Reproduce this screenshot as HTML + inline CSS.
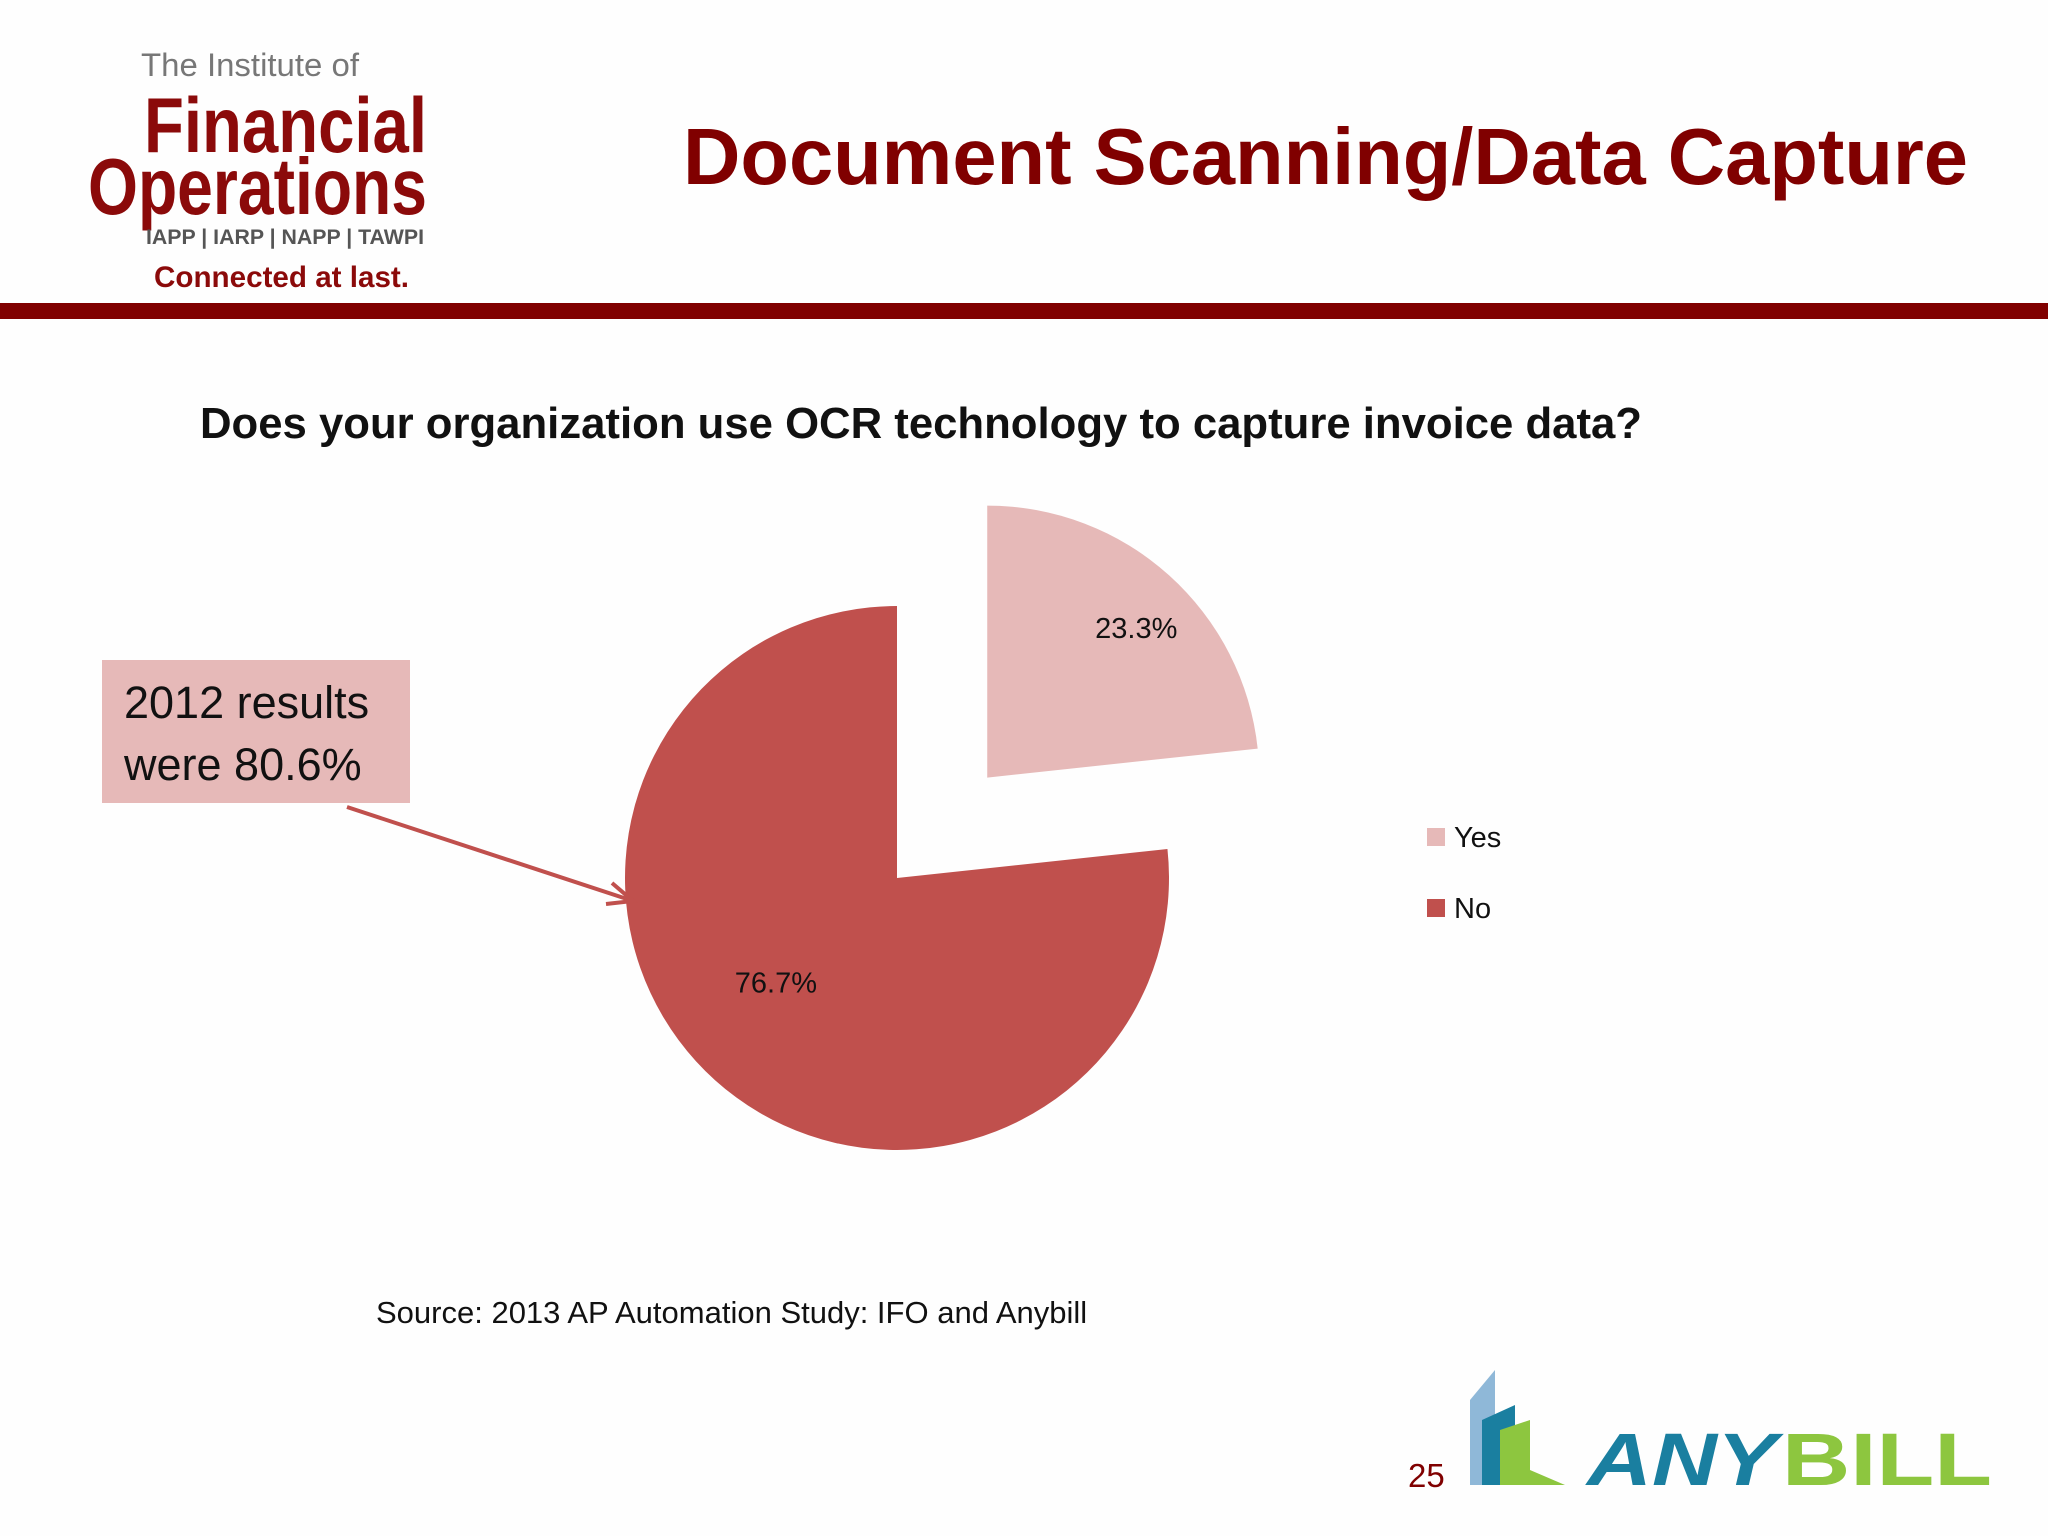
<!DOCTYPE html>
<html><head><meta charset="utf-8"><style>
html,body{margin:0;padding:0;background:#fefefe;}
svg{display:block;font-family:"Liberation Sans",sans-serif;}
</style></head><body>
<svg id="chart" width="2048" height="1536" viewBox="0 0 2048 1536" xmlns="http://www.w3.org/2000/svg">
<rect width="2048" height="1536" fill="#fefefe"/>
<g>
<text x="141" y="76" font-size="32" fill="#777" textLength="218" lengthAdjust="spacingAndGlyphs">The Institute of</text>
<text x="144" y="152" font-size="78" font-weight="bold" fill="#8b0a0a" textLength="283" lengthAdjust="spacingAndGlyphs">Financial</text>
<text x="88" y="214" font-size="80" font-weight="bold" fill="#8b0a0a" textLength="339" lengthAdjust="spacingAndGlyphs">Operations</text>
<text x="146" y="244" font-size="21" font-weight="bold" fill="#555" textLength="278" lengthAdjust="spacingAndGlyphs">IAPP | IARP | NAPP | TAWPI</text>
<text x="154" y="287" font-size="30" font-weight="bold" fill="#8b0a0a" textLength="255" lengthAdjust="spacingAndGlyphs">Connected at last.</text>
</g>
<text x="683" y="184" font-size="80" font-weight="bold" fill="#800000" textLength="1285" lengthAdjust="spacingAndGlyphs">Document Scanning/Data Capture</text>
<rect x="0" y="303" width="2048" height="16" fill="#800000"/>
<text x="200" y="438" font-size="44" font-weight="bold" fill="#111" textLength="1442" lengthAdjust="spacingAndGlyphs">Does your organization use OCR technology to capture invoice data?</text>
<g id="pie"></g>
<g>
<rect x="1427" y="828" width="18" height="18" fill="#e6b9b8"/>
<text x="1454" y="847" font-size="29" fill="#111">Yes</text>
<rect x="1427" y="899" width="18" height="18" fill="#c0504d"/>
<text x="1454" y="918" font-size="29" fill="#111">No</text>
</g>
<g>
<rect x="102" y="660" width="308" height="143" fill="#e6b9b8"/>
<text x="124" y="718" font-size="45" fill="#111">2012 results</text>
<text x="124" y="780" font-size="45" fill="#111">were 80.6%</text>
<line x1="347" y1="807" x2="630" y2="900" stroke="#c0504d" stroke-width="4"/>
<path d="M612 883 L633 901 L606 904" fill="none" stroke="#c0504d" stroke-width="4"/>
</g>
<text x="376" y="1323" font-size="31" fill="#111">Source: 2013 AP Automation Study: IFO and Anybill</text>
<text x="1408" y="1487" font-size="33" fill="#800000">25</text>
<g>
<path d="M1470 1485 L1470 1400 L1495 1370 L1495 1485 Z" fill="#8fb8d8"/>
<path d="M1482 1485 L1482 1420 L1515 1405 L1515 1485 Z" fill="#1a7fa0"/>
<path d="M1500 1485 L1500 1430 L1530 1420 L1530 1470 L1565 1485 Z" fill="#8dc63f"/>
<text x="1587" y="1485" font-size="74" font-weight="bold" font-style="italic" fill="#1a7fa0" textLength="190" lengthAdjust="spacingAndGlyphs">ANY</text>
<text x="1782" y="1485" font-size="74" font-weight="bold" fill="#8dc63f" textLength="210" lengthAdjust="spacingAndGlyphs">BILL</text>
</g>
</svg>
<script>
const categories = ["Yes", "No"];
const values = [23.3, 76.7];
const valueLabels = ["23.3%", "76.7%"];
const colors = ["#e6b9b8", "#c0504d"];
const NS = "http://www.w3.org/2000/svg";
const g = document.getElementById("pie");
const cx = 897, cy = 878, r = 272;
const total = values.reduce((a,b)=>a+b,0);
function pt(a, rad, ox, oy){ return [ox + rad*Math.sin(a), oy - rad*Math.cos(a)]; }
let start = 0;
values.forEach((v,i)=>{
  const sweep = v/total*2*Math.PI;
  const mid = start + sweep/2;
  const off = i === 0 ? 135 : 0;
  const ox = cx + off*Math.sin(mid), oy = cy - off*Math.cos(mid);
  const p1 = pt(start, r, ox, oy), p2 = pt(start+sweep, r, ox, oy);
  const large = sweep > Math.PI ? 1 : 0;
  const path = document.createElementNS(NS, "path");
  path.setAttribute("d", `M${ox} ${oy} L${p1[0]} ${p1[1]} A${r} ${r} 0 ${large} 1 ${p2[0]} ${p2[1]} Z`);
  path.setAttribute("fill", colors[i]);
  
  
  g.appendChild(path);
  const lp = pt(mid, r*0.6, ox, oy);
  const t = document.createElementNS(NS, "text");
  t.setAttribute("x", i === 0 ? lp[0] + 40 : lp[0] - 12);
  t.setAttribute("y", i === 0 ? lp[1] - 18 : lp[1] - 7);
  t.setAttribute("text-anchor", "middle");
  t.setAttribute("font-size", "29");
  t.setAttribute("fill", "#111");
  t.textContent = valueLabels[i];
  
  
  g.appendChild(t);
  start += sweep;
});
</script>
</body></html>
